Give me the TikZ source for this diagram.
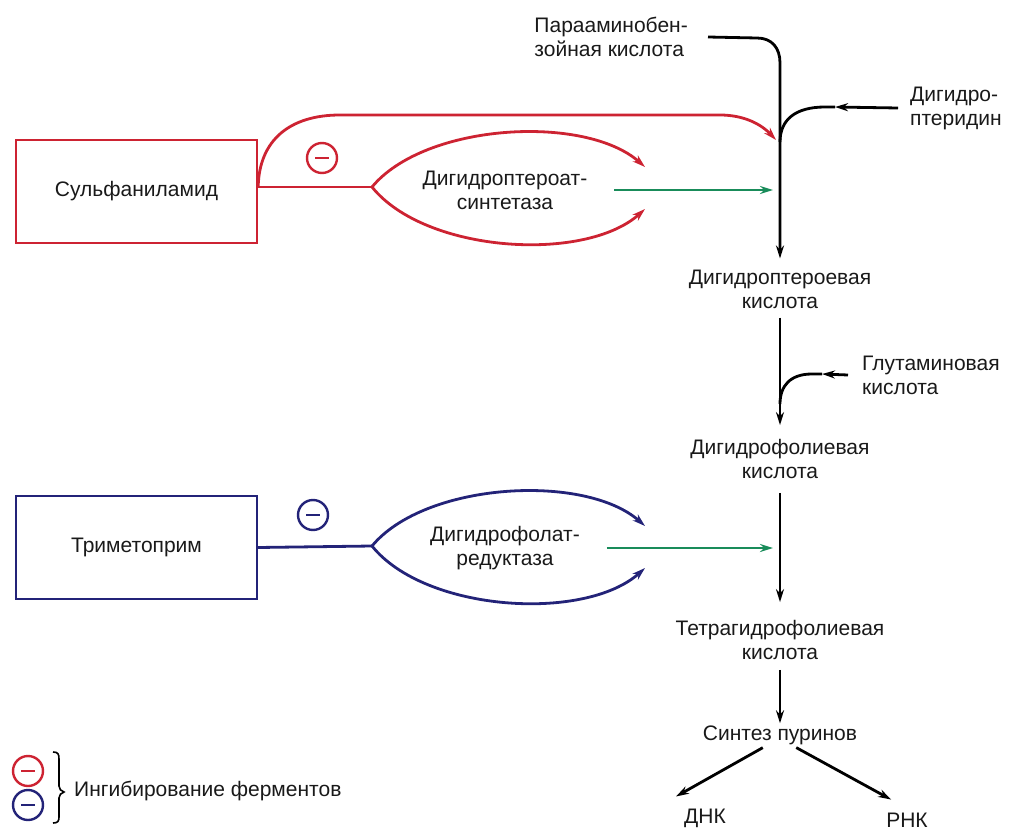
\documentclass[tikz,border=0pt]{standalone}
\usepackage{fontspec}
\setmainfont{Liberation Sans}
\usetikzlibrary{arrows.meta}
\definecolor{inhred}{RGB}{205,35,50}
\definecolor{inhblue}{RGB}{35,35,120}
\definecolor{enzgreen}{RGB}{25,140,90}

\begin{document}
\begin{tikzpicture}[x=1pt,y=-1pt,
    txt/.style={font=\fontsize{21}{24}\selectfont, align=center, inner sep=0pt, text=black!90},
    drug/.style={line width=2.4pt, minimum width=241pt, minimum height=103pt, inner sep=0pt,
      font=\fontsize{21}{24}\selectfont, text=black!90},
    ln/.style={line width=2.8pt},
    arr/.style={line width=2.8pt, -{Stealth[length=13pt,width=8pt]}},
    inhib/.style={circle, draw, line width=2.4pt, minimum size=30pt, inner sep=0pt,
      path picture={\draw[line width=2.6pt] ([xshift=-7pt]path picture bounding box.center)
        -- ([xshift=7pt]path picture bounding box.center);}}]
  \useasboundingbox (0,0) rectangle (1009,832);

  % sulfanilamide branch
  \node[drug, draw=inhred] (sulfa) at (136.5,191.5) {Сульфаниламид};
  \coordinate (dhps-tip) at (372,187);
  \node[txt] (dhps) at (505,190) {Дигидроптероат-\\синтетаза};
  \node[inhib, color=inhred] (inh1) at (322,158) {};
  \draw[ln, inhred] ([yshift=4.5pt]sulfa.east) -- (dhps-tip);
  \draw[arr, inhred] (dhps-tip) .. controls (425,123) and (585,114) .. (645,167);
  \draw[arr, inhred] (dhps-tip) .. controls (425,253) and (585,263) .. (645,209);
  \coordinate (j1) at (776,140);
  \draw[arr, inhred] ([yshift=4.5pt]sulfa.east) .. controls (259,140) and (290,115) .. (340,115)
    -- (720,115) .. controls (745,115) and (762,125) .. (j1);
  \coordinate (g1) at (773,190);
  \draw[arr, enzgreen] ([xshift=27pt]dhps.east) -- (g1);

  % trimethoprim branch
  \node[drug, draw=inhblue] (tmp) at (136.5,547.5) {Триметоприм};
  \coordinate (dhfr-tip) at (372,546);
  \node[txt] (dhfr) at (505,548) {Дигидрофолат-\\редуктаза};
  \node[inhib, color=inhblue] (inh2) at (313,515) {};
  \draw[ln, inhblue] (tmp.east) -- (dhfr-tip);
  \draw[arr, inhblue] (dhfr-tip) .. controls (425,482) and (585,473) .. (645,526);
  \draw[arr, inhblue] (dhfr-tip) .. controls (425,612) and (585,622) .. (645,568);
  \coordinate (g2) at (773,548);
  \draw[arr, enzgreen] ([xshift=27pt]dhfr.east) -- (g2);

  % folate pathway
  \node[txt, anchor=east, align=left] (paba) at (688,37) {Парааминобен-\\зойная кислота};
  \node[txt, anchor=west, align=left] (dhpt) at (910,108) {Дигидро-\\птеридин};
  \node[txt] (dhpa) at (780,289) {Дигидроптероевая\\кислота};
  \node[txt, anchor=west, align=left] (glu) at (862,375) {Глутаминовая\\кислота};
  \node[txt] (dhfa) at (780,459) {Дигидрофолиевая\\кислота};
  \node[txt] (thfa) at (780,640) {Тетрагидрофолиевая\\кислота};
  \node[txt] (purin) at (780,735) {Синтез пуринов};
  \node[txt] (dna) at (705,818) {ДНК};
  \node[txt] (rna) at (907,820) {РНК};

  \draw[arr, shorten >=11pt] ([xshift=20pt]paba.east) -- (757,38) .. controls (772,38) and (780,48) .. (780,63)
    -- (dhpa.north);
  \coordinate (m1) at (835,107);
  \draw[arr] ([xshift=-12pt]dhpt.west) -- (m1);
  \draw[ln] (m1) -- (825,107) .. controls (795,107) and (780,120) .. (780,142);
  \draw[arr, shorten <=9pt, shorten >=14pt] (dhpa) -- (dhfa);
  \coordinate (m2) at (822,374);
  \draw[arr] ([xshift=-14pt]glu.west) -- (m2);
  \draw[ln] (m2) -- (812,374) .. controls (790,374) and (780,386) .. (780,404);
  \draw[arr, shorten <=14pt, shorten >=18pt] (dhfa) -- (thfa);
  \draw[arr, shorten <=10pt, shorten >=2pt] (thfa) -- (purin);
  \draw[arr, shorten <=6pt] ([xshift=-12pt]purin.south) -- ([shift={(-8pt,12pt)}]dna.north west);
  \draw[arr, shorten <=6pt] ([xshift=11pt]purin.south) -- ([shift={(5pt,13pt)}]rna.north west);

  % legend
  \node[inhib, color=inhred] (leg-r) at (28,771) {};
  \node[inhib, color=inhblue] (leg-b) at (28,805) {};
  \draw[line width=1.6pt] (53,752) .. controls (58,752) and (59,754) .. (59,759) -- (59,786)
    .. controls (59,789) and (61,791) .. (64,792) .. controls (61,793) and (59,795) .. (59,798)
    -- (59,817) .. controls (59,821) and (58,823) .. (53,823);
  \node[txt, anchor=west] (leg) at (74,791) {Ингибирование ферментов};
\end{tikzpicture}
\end{document}
